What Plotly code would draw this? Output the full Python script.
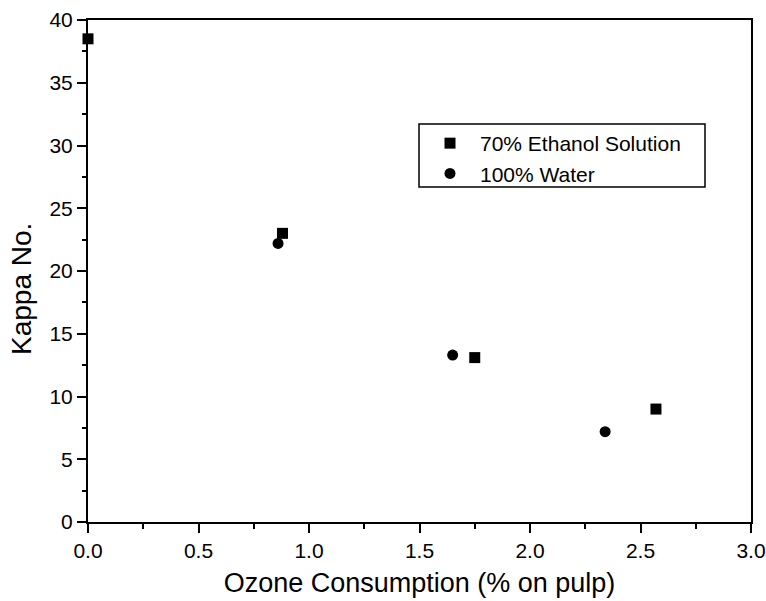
import plotly.graph_objects as go

eth_x = [0.0, 0.88, 1.75, 2.57]
eth_y = [38.5, 23.0, 13.1, 9.0]
wat_x = [0.86, 1.65, 2.34]
wat_y = [22.2, 13.3, 7.2]
x_ticks = [0.0, 0.5, 1.0, 1.5, 2.0, 2.5, 3.0]
x_tick_text = ["0.0", "0.5", "1.0", "1.5", "2.0", "2.5", "3.0"]
y_ticks = [0, 5, 10, 15, 20, 25, 30, 35, 40]

FONT = "Liberation Sans, Arial, sans-serif"
L, R, T, B = 88, 751, 20, 522
PW, PH = R - L, B - T

fig = go.Figure()
fig.add_trace(go.Scatter(x=eth_x, y=eth_y, mode="markers", name="70% Ethanol Solution",
                         marker=dict(symbol="square", size=11, color="black"), cliponaxis=False))
fig.add_trace(go.Scatter(x=wat_x, y=wat_y, mode="markers", name="100% Water",
                         marker=dict(symbol="circle", size=11, color="black"), cliponaxis=False))

axis_common = dict(showline=True, linecolor="black", linewidth=2, mirror=True,
                   ticks="outside", tickcolor="black", tickwidth=1.5, ticklen=9,
                   showgrid=False, zeroline=False, ticklabeloverflow="allow",
                   automargin=False,
                   tickfont=dict(family=FONT, size=21, color="black"))

fig.update_xaxes(range=[0, 3.0], tickvals=x_ticks, ticktext=x_tick_text,
                 minor=dict(dtick=0.25, tick0=0, ticks="outside", ticklen=5, tickcolor="black", tickwidth=1.5),
                 title=dict(text="Ozone Consumption (% on pulp)", font=dict(family=FONT, size=27, color="black"), standoff=12),
                 **axis_common)
fig.update_yaxes(range=[0, 40], tickvals=y_ticks,
                 minor=dict(dtick=2.5, tick0=0, ticks="outside", ticklen=4, tickcolor="black", tickwidth=1.5),
                 **axis_common)

fig.add_annotation(text="Kappa No.", xref="paper", yref="paper",
                   x=(21 - L) / PW, y=(B - 289) / PH, textangle=-90,
                   showarrow=False, xanchor="center", yanchor="middle",
                   font=dict(family=FONT, size=28, color="black"))

# legend frame
fig.add_shape(type="rect", xref="paper", yref="paper",
              x0=(419 - L) / PW, x1=(705 - L) / PW,
              y0=(B - 187) / PH, y1=(B - 124) / PH,
              line=dict(color="black", width=1.5), fillcolor="white", layer="below")

fig.update_layout(
    width=766, height=601,
    margin=dict(l=L, r=766 - R, t=T, b=601 - B, autoexpand=False),
    plot_bgcolor="white", paper_bgcolor="white",
    legend=dict(x=(420 - L) / PW, y=(B - 123) / PH, xanchor="left", yanchor="top",
                borderwidth=0, bgcolor="rgba(0,0,0,0)",
                itemwidth=50, font=dict(family=FONT, size=21, color="black"),
                tracegroupgap=0),
    showlegend=True,
)

fig.write_html("out.html")
